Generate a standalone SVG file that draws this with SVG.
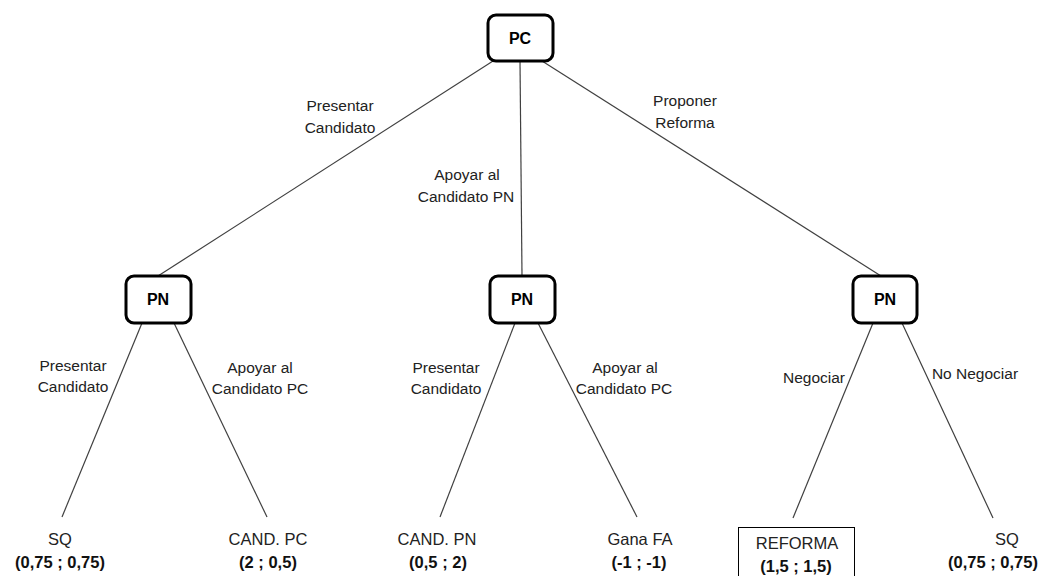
<svg xmlns="http://www.w3.org/2000/svg" width="1050" height="576" viewBox="0 0 1050 576">
<style>
.bg{fill:#ffffff}
.dec{fill:#ffffff;stroke:#000000;stroke-width:3}
.dt{font-family:"Liberation Sans",Arial,sans-serif;font-size:16px;font-weight:bold;fill:#000000;text-anchor:middle}
.edge{stroke:#404040;stroke-width:1.2;fill:none}
.el{font-family:"Liberation Sans",Arial,sans-serif;font-size:15.5px;fill:#222222;text-anchor:middle}
.ln{font-family:"Liberation Sans",Arial,sans-serif;font-size:16.5px;fill:#222222;text-anchor:middle}
.lp{font-family:"Liberation Sans",Arial,sans-serif;font-size:16.5px;font-weight:bold;fill:#111111;text-anchor:middle}
.box{fill:none;stroke:#000000;stroke-width:1}
</style>
<rect class="bg" x="0" y="0" width="1050" height="576"/>
<g id="connectors">
<line class="edge" x1="493" y1="61" x2="158" y2="276"/>
<line class="edge" x1="520" y1="61" x2="522" y2="276"/>
<line class="edge" x1="542" y1="61" x2="881" y2="276"/>
<line class="edge" x1="142" y1="323" x2="62" y2="517"/>
<line class="edge" x1="174" y1="323" x2="267" y2="517"/>
<line class="edge" x1="515" y1="323" x2="440" y2="517"/>
<line class="edge" x1="538" y1="323" x2="637" y2="517"/>
<line class="edge" x1="873" y1="323" x2="793" y2="518"/>
<line class="edge" x1="902" y1="323" x2="993" y2="518"/>
<text class="el" x="340" y="111">Presentar</text>
<text class="el" x="340" y="133">Candidato</text>
<text class="el" x="467" y="180">Apoyar al</text>
<text class="el" x="466" y="202">Candidato PN</text>
<text class="el" x="685" y="106">Proponer</text>
<text class="el" x="685" y="128">Reforma</text>
<text class="el" x="73" y="371">Presentar</text>
<text class="el" x="73" y="392">Candidato</text>
<text class="el" x="260" y="373">Apoyar al</text>
<text class="el" x="260" y="394">Candidato PC</text>
<text class="el" x="446" y="373">Presentar</text>
<text class="el" x="446" y="394">Candidato</text>
<text class="el" x="625" y="373">Apoyar al</text>
<text class="el" x="624" y="394">Candidato PC</text>
<text class="el" x="814" y="383">Negociar</text>
<text class="el" x="975" y="379">No Negociar</text>
</g>
<g id="node-pc">
<rect class="dec" x="488" y="15" width="65" height="46" rx="8"/>
<text class="dt" x="520" y="44">PC</text>
</g>
<g id="node-pn-left">
<rect class="dec" x="126" y="276" width="65" height="47" rx="8"/>
<text class="dt" x="158" y="305">PN</text>
</g>
<g id="node-pn-mid">
<rect class="dec" x="490" y="276" width="65" height="47" rx="8"/>
<text class="dt" x="522" y="305">PN</text>
</g>
<g id="node-pn-right">
<rect class="dec" x="853" y="276" width="64" height="47" rx="8"/>
<text class="dt" x="885" y="305">PN</text>
</g>
<g id="leaf-sq-1">
<text class="ln" x="60" y="545">SQ</text>
<text class="lp" x="60" y="568">(0,75 ; 0,75)</text>
</g>
<g id="leaf-cand-pc">
<text class="ln" x="268" y="545">CAND. PC</text>
<text class="lp" x="268" y="568">(2 ; 0,5)</text>
</g>
<g id="leaf-cand-pn">
<text class="ln" x="437" y="545">CAND. PN</text>
<text class="lp" x="438" y="568">(0,5 ; 2)</text>
</g>
<g id="leaf-gana-fa">
<text class="ln" x="640" y="545">Gana FA</text>
<text class="lp" x="639" y="568">(-1 ; -1)</text>
</g>
<g id="leaf-reforma">
<rect class="box" x="738.500" y="527.500" width="116" height="60"/>
<text class="ln" x="797" y="549">REFORMA</text>
<text class="lp" x="796" y="572">(1,5 ; 1,5)</text>
</g>
<g id="leaf-sq-2">
<text class="ln" x="1007" y="545">SQ</text>
<text class="lp" x="993" y="568">(0,75 ; 0,75)</text>
</g>
</svg>
